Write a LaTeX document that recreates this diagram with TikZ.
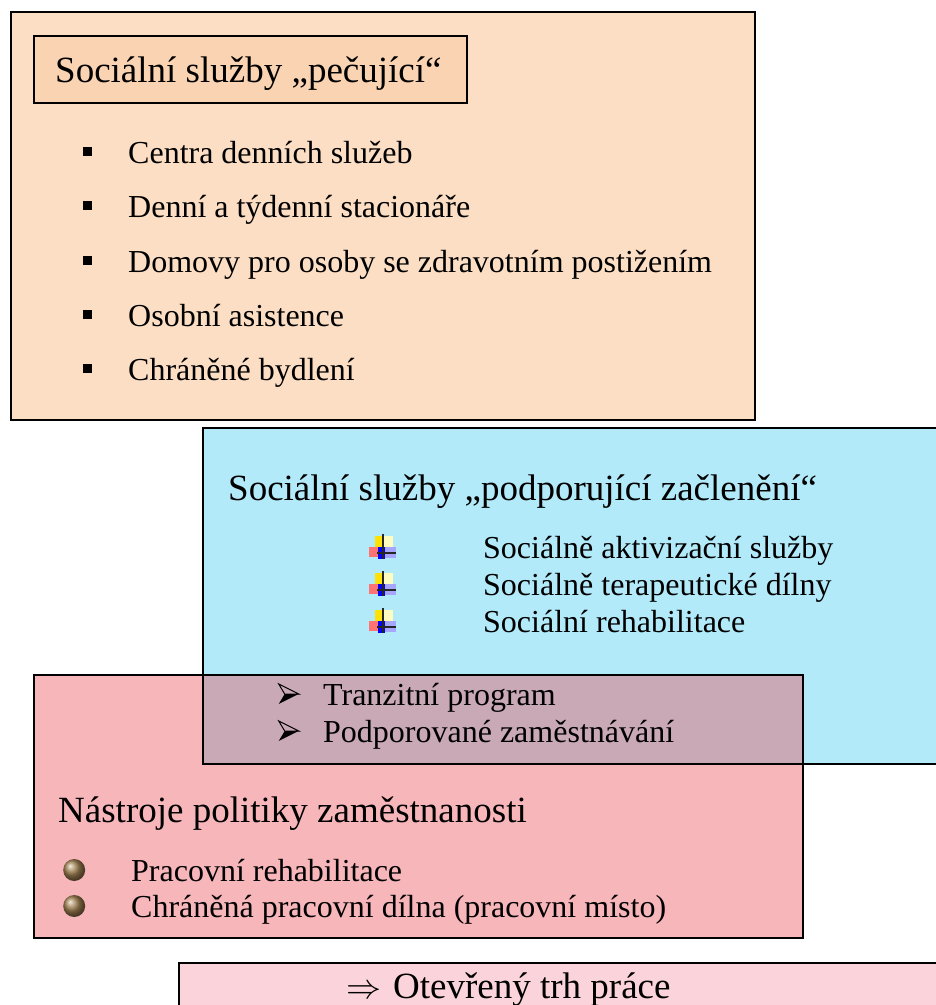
\documentclass[tikz,border=0pt]{standalone}
\usepackage{fontspec}
\setmainfont{Liberation Serif}
\usepackage{graphicx}
\usepackage{tikz}

\definecolor{careorange}{RGB}{252,222,196}
\definecolor{titleorange}{RGB}{250,212,178}
\definecolor{supportcyan}{RGB}{178,234,250}
\definecolor{policyred}{RGB}{235,80,90}
\definecolor{marketpink}{RGB}{250,212,218}
\definecolor{ballbrown}{RGB}{160,128,80}

% bullets
\newcommand{\sqbul}{\rule[7pt]{9pt}{9pt}}
\newcommand{\plusbul}{\tikz[baseline=0pt,x=1pt,y=1pt]{%
	\fill[yellow!85!orange] (-8,11) rectangle (0,22);
	\fill[yellow!25] (0,11) rectangle (10,22);
	\fill[red!55] (-14,1) rectangle (-5,11);
	\fill[blue] (-5,-1) rectangle (2,11);
	\fill[blue!35] (2,0) rectangle (13,11);
	\draw[line width=1.5pt,black!85] (0,-1) -- (0,24);
	\draw[line width=1.5pt,black!85] (-6,5) -- (13,5);}}
\newcommand{\arrowbul}{\tikz[baseline=0pt,x=1pt,y=1pt]{%
	\fill (0,1) -- (20,11) -- (6,11) -- cycle;
	\draw[line width=1pt,line join=miter] (0,21) -- (20,11) -- (6,11) -- cycle;}}
\newcommand{\ballbul}{\tikz[baseline=-11pt,x=1pt,y=1pt]\shade[ball color=ballbrown] (0,0) circle (11pt);}

\begin{document}
\begin{tikzpicture}[x=1pt,y=-1pt,
	box node/.style={rectangle, draw=black, line width=1.6pt, inner sep=0pt, outer sep=0pt},
	title node/.style={anchor=base west, inner sep=0pt, text=black, font=\fontsize{37}{44}\selectfont},
	item node/.style={anchor=base west, inner sep=0pt, text=black, font=\fontsize{32}{38}\selectfont}]
	\useasboundingbox (0,0) rectangle (936,1005);
	
	% caring services
	\node[box node,fill=careorange,minimum width=744pt,minimum height=408pt] (1) at (383,216) {};
	\node[box node,fill=titleorange,minimum width=433pt,minimum height=67pt] (2) at (250.5,69.5) {};
	\node[title node] (3) at (55,82) {Sociální služby „pečující“};
	\node[item node] (4) at (83,163) {\makebox[45pt][l]{\sqbul}Centra denních služeb};
	\node[item node] (5) at (83,217) {\makebox[45pt][l]{\sqbul}Denní a týdenní stacionáře};
	\node[item node] (6) at (83,272) {\makebox[45pt][l]{\sqbul}Domovy pro osoby se zdravotním postižením};
	\node[item node] (7) at (83,326) {\makebox[45pt][l]{\sqbul}Osobní asistence};
	\node[item node] (8) at (83,380) {\makebox[45pt][l]{\sqbul}Chráněné bydlení};
	
	% inclusion services
	\node[box node,fill=supportcyan,minimum width=742pt,minimum height=336pt] (9) at (574,596) {};
	\node[title node] (10) at (228,500) {Sociální služby „podporující začlenění“};
	\node[item node] (11) at (369,558) {\makebox[114pt][l]{\plusbul}Sociálně aktivizační služby};
	\node[item node] (12) at (369,595) {\makebox[114pt][l]{\plusbul}Sociálně terapeutické dílny};
	\node[item node] (13) at (369,632) {\makebox[114pt][l]{\plusbul}Sociální rehabilitace};
	
	% employment policy
	\node[box node,fill=policyred,fill opacity=0.42,minimum width=769pt,minimum height=263pt] (14) at (418.5,806.5) {};
	\draw[line width=1.6pt] (9.north west) rectangle (9.south east);
	\node[item node] (15) at (278,705) {\makebox[45pt][l]{\arrowbul}Tranzitní program};
	\node[item node] (16) at (278,742) {\makebox[45pt][l]{\arrowbul}Podporované zaměstnávání};
	\node[title node] (17) at (58,822) {Nástroje politiky zaměstnanosti};
	\node[item node] (18) at (63,881) {\makebox[68pt][l]{\ballbul}Pracovní rehabilitace};
	\node[item node] (19) at (63,917) {\makebox[68pt][l]{\ballbul}Chráněná pracovní dílna (pracovní místo)};
	
	% open labour market
	\node[box node,fill=marketpink,minimum width=766pt,minimum height=52pt] (20) at (562,989) {};
	\node[title node] (21) at (346,998) {\makebox[47pt][l]{\resizebox{35pt}{!}{$\Rightarrow$}}Otevřený trh práce};
\end{tikzpicture}
\end{document}
